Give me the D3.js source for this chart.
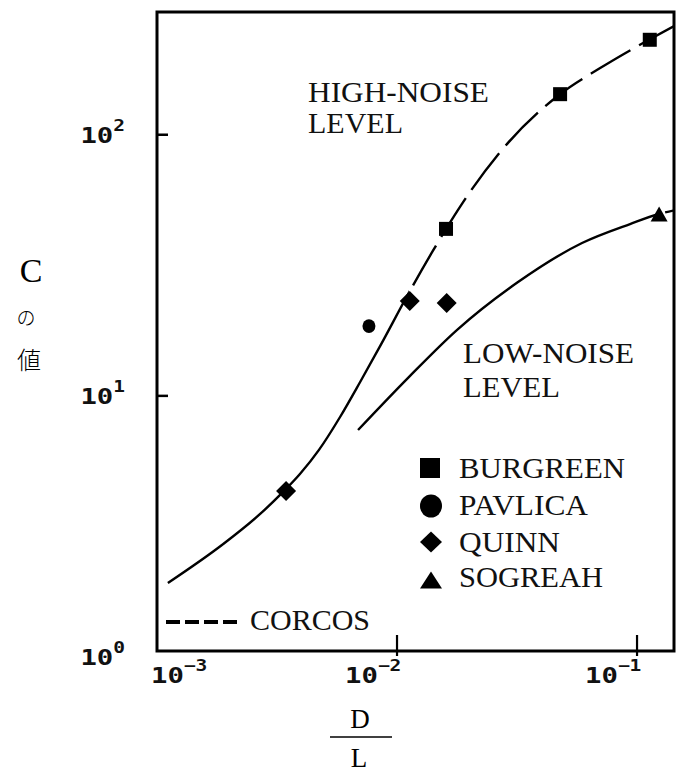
<!DOCTYPE html>
<html><head><meta charset="utf-8">
<script src="https://cdn.jsdelivr.net/npm/d3@7"></script>
<style>body{margin:0;background:#fff}svg{display:block}</style>
</head><body><svg id="c" width="676" height="774"></svg>
<script>
// ---- data ----
const xTicks = [1e-3, 1e-2, 1e-1];
const xTickExp = ["\u22123", "\u22122", "\u22121"];
const yTicks = [1, 10, 100];
const yTickExp = ["0", "1", "2"];

const burgreenX = [0.016, 0.0478, 0.113];
const burgreenY = [43.6, 143, 231];
const pavlicaX = [0.00764];
const pavlicaY = [18.5];
const quinnX = [0.00345, 0.0113, 0.0161];
const quinnY = [4.32, 23.1, 22.7];
const sogreahX = [0.1236];
const sogreahY = [49.7];

const highX = [0.00111, 0.00187, 0.00269, 0.00332, 0.00394, 0.00473, 0.00579, 0.00702, 0.0085, 0.0112, 0.0141, 0.0163, 0.0185, 0.0269, 0.0473, 0.0702, 0.112, 0.145];
const highY = [1.92, 2.69, 3.53, 4.25, 5.02, 6.21, 8.30, 11.3, 15.5, 24.8, 35.9, 44.8, 53.8, 85.9, 142, 180, 231, 263];
const lowX = [0.00688, 0.0112, 0.0178, 0.0316, 0.059, 0.0935, 0.1236, 0.145];
const lowY = [7.40, 11.8, 17.9, 27.1, 38.5, 45.5, 49.7, 51.5];
const highDashFrom = 0.0112;
const lowDashFrom = 0.1236;

const legendNames = ["BURGREEN", "PAVLICA", "QUINN", "SOGREAH"];
const corcosName = "CORCOS";
const highLabel = ["HIGH-NOISE", "LEVEL"];
const lowLabel = ["LOW-NOISE", "LEVEL"];

// ---- drawing ----
const svg = d3.select("#c");
const x = d3.scaleLog().domain([1e-3, Math.pow(10, -0.846)]).range([157, 674]);
const y = d3.scaleLog().domain([1, Math.pow(10, 2.47)]).range([657, 12]);
const yFrameMin = Math.pow(10, 0.023);
const X0 = x.range()[0], X1 = x.range()[1], Y0 = y(yFrameMin), Y1 = y.range()[1];
const serif = "'Liberation Serif','Times New Roman',serif";
const mono = "'DejaVu Sans Mono',monospace";

const defs = svg.append("defs");
defs.append("clipPath").attr("id", "plot").append("rect")
  .attr("x", X0).attr("y", Y1).attr("width", X1 - X0).attr("height", Y0 - Y1);

function clipFrom(id, xv, solid) {
  const cp = defs.append("clipPath").attr("id", id).append("rect")
    .attr("y", Y1).attr("height", Y0 - Y1);
  if (solid) cp.attr("x", X0).attr("width", x(xv) - X0);
  else cp.attr("x", x(xv)).attr("width", X1 - x(xv));
}
clipFrom("hs", highDashFrom, true);
clipFrom("hd", highDashFrom, false);
clipFrom("ls", lowDashFrom, true);
clipFrom("ld", lowDashFrom, false);

const line = d3.line().x(d => x(d[0])).y(d => y(d[1])).curve(d3.curveMonotoneX);
const highPts = highX.map((v, i) => [v, highY[i]]);
const lowPts = lowX.map((v, i) => [v, lowY[i]]);

const curves = svg.append("g").attr("clip-path", "url(#plot)")
  .attr("fill", "none").attr("stroke", "#000").attr("stroke-width", 2.4);
curves.append("g").attr("clip-path", "url(#hs)").append("path").attr("d", line(highPts));
curves.append("g").attr("clip-path", "url(#hd)").append("path").attr("d", line(highPts))
  .attr("stroke-dasharray", "46,10").attr("stroke-dashoffset", 0);
curves.append("g").attr("clip-path", "url(#ls)").append("path").attr("d", line(lowPts));
curves.append("g").attr("clip-path", "url(#ld)").append("path").attr("d", line(lowPts))
  .attr("stroke-dasharray", "12,6").attr("stroke-dashoffset", -4);

// frame
svg.append("rect").attr("x", X0).attr("y", Y1).attr("width", X1 - X0).attr("height", Y0 - Y1)
  .attr("fill", "none").attr("stroke", "#000").attr("stroke-width", 3);

// ticks
yTicks.forEach((t, i) => {
  if (i > 0) svg.append("line").attr("x1", X0).attr("x2", X0 + 11).attr("y1", y(t)).attr("y2", y(t))
    .attr("stroke", "#000").attr("stroke-width", 2.5);
});
xTicks.forEach((t, i) => {
  if (i > 0) svg.append("line").attr("x1", x(t)).attr("x2", x(t)).attr("y1", Y0 - 16).attr("y2", Y0 + 5)
    .attr("stroke", "#000").attr("stroke-width", 2.2);
});

function powLabel(px, py, exp, anchor) {
  const g = svg.append("g").attr("transform", `translate(${px},${py}) scale(1.3,1)`);
  const t = g.append("text").attr("font-family", mono).attr("font-weight", "bold")
    .attr("font-size", 21).attr("text-anchor", anchor).attr("fill", "#111");
  t.append("tspan").text("10");
  t.append("tspan").attr("dy", -12).attr("font-size", 15).text(exp);
}
yTicks.forEach((t, i) => powLabel(125, y(t) + 8, yTickExp[i], "end"));
xTicks.forEach((t, i) => powLabel(Math.max(x(t) - 52, 151), 683, xTickExp[i], "start"));

// axis titles
svg.append("text").attr("x", 31).attr("y", 282).attr("text-anchor", "middle")
  .attr("font-family", serif).attr("font-size", 34).text("C");
svg.append("text").attr("x", 26).attr("y", 325).attr("text-anchor", "middle")
  .attr("font-family", "'Noto Sans CJK JP',sans-serif").attr("font-size", 19).attr("font-weight", 300).text("の");
svg.append("text").attr("x", 29).attr("y", 369).attr("text-anchor", "middle")
  .attr("font-family", "'Noto Sans CJK JP',sans-serif").attr("font-size", 24).attr("font-weight", 300).text("値");
svg.append("text").attr("x", 360).attr("y", 728).attr("text-anchor", "middle")
  .attr("font-family", serif).attr("font-size", 27).text("D");
svg.append("line").attr("x1", 330).attr("x2", 392).attr("y1", 737).attr("y2", 737)
  .attr("stroke", "#000").attr("stroke-width", 1.5);
svg.append("text").attr("x", 359).attr("y", 767).attr("text-anchor", "middle")
  .attr("font-family", serif).attr("font-size", 27).text("L");

// region labels
function stext(px, py, s, len) {
  svg.append("text").attr("x", px).attr("y", py).attr("font-family", serif).attr("font-size", 29)
    .attr("textLength", len).attr("lengthAdjust", "spacingAndGlyphs").attr("fill", "#111").text(s);
}
stext(308, 102, highLabel[0], 181);
stext(308, 133, highLabel[1], 95);
stext(463, 363, lowLabel[0], 171);
stext(463, 397, lowLabel[1], 97);

// markers
function square(cx, cy, s) { svg.append("rect").attr("x", cx - s / 2).attr("y", cy - s / 2).attr("width", s).attr("height", s).attr("fill", "#000"); }
function circle(cx, cy, r) { svg.append("ellipse").attr("cx", cx).attr("cy", cy).attr("rx", r).attr("ry", r * 1.05).attr("fill", "#000"); }
function diamond(cx, cy, w, h) { svg.append("path").attr("d", `M${cx},${cy - h / 2}L${cx + w / 2},${cy}L${cx},${cy + h / 2}L${cx - w / 2},${cy}Z`).attr("fill", "#000"); }
function triangle(cx, cy, w, h) { svg.append("path").attr("d", `M${cx},${cy - h / 2}L${cx + w / 2},${cy + h / 2}L${cx - w / 2},${cy + h / 2}Z`).attr("fill", "#000"); }

burgreenX.forEach((v, i) => square(x(v), y(burgreenY[i]), 14));
pavlicaX.forEach((v, i) => circle(x(v), y(pavlicaY[i]), 6.5));
quinnX.forEach((v, i) => diamond(x(v), y(quinnY[i]), 20, 20));
sogreahX.forEach((v, i) => triangle(x(v), y(sogreahY[i]), 17, 15));

// legend
const legY = [468, 506, 542, 580];
const legBase = [478, 515, 552, 587];
const legLen = [166, 129, 101, 144];
square(430, legY[0], 20);
circle(431, legY[1], 11);
diamond(431, legY[2], 22, 21);
triangle(431, legY[3], 22, 17);
legendNames.forEach((n, i) => stext(459, legBase[i], n, legLen[i]));
svg.append("line").attr("x1", 166).attr("x2", 237).attr("y1", 622).attr("y2", 622)
  .attr("stroke", "#000").attr("stroke-width", 4).attr("stroke-dasharray", "14,5");
stext(250, 630, corcosName, 120);
</script></body></html>
